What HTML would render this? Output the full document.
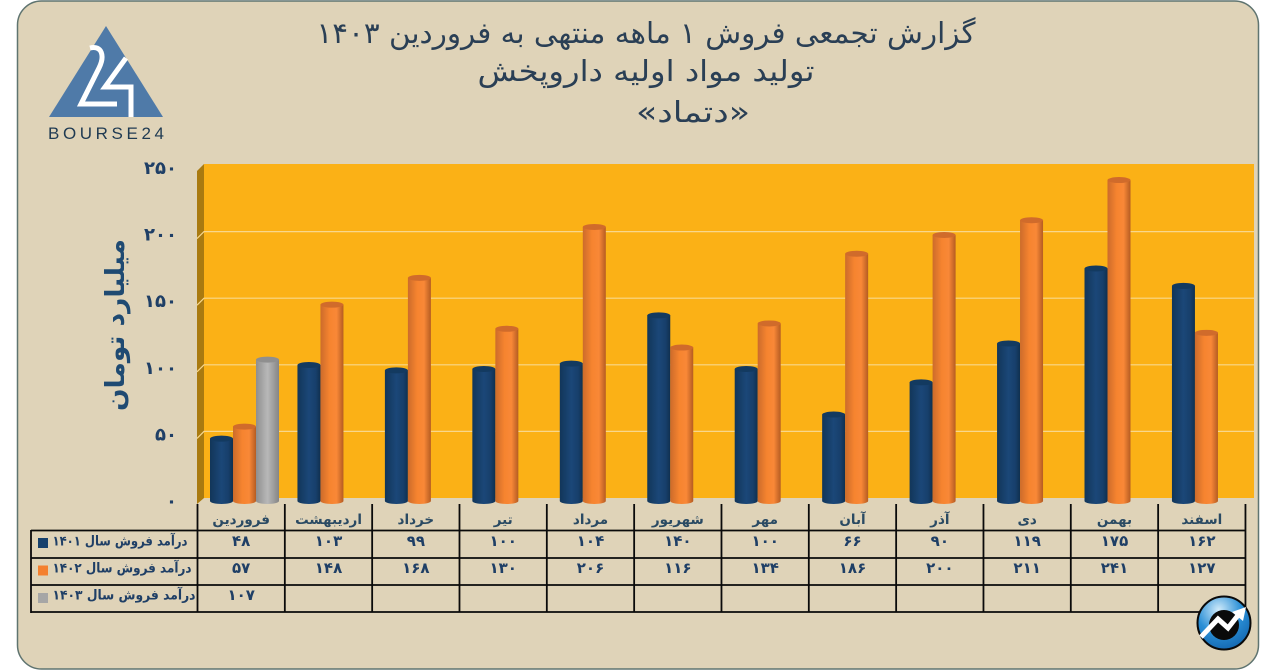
<!DOCTYPE html>
<html lang="fa">
<head>
<meta charset="utf-8">
<title>گزارش تجمعی فروش</title>
<style>
html,body{margin:0;padding:0;background:#fff;width:1271px;height:670px;overflow:hidden}
svg{display:block;font-family:"DejaVu Sans","Liberation Sans",sans-serif}
</style>
</head>
<body>
<svg id="chart" xmlns="http://www.w3.org/2000/svg" width="1271" height="670" viewBox="0 0 1271 670">
<defs>
<linearGradient id="gb" x1="0" x2="1" y1="0" y2="0"><stop offset="0" stop-color="#123659"/><stop offset=".5" stop-color="#1b4778"/><stop offset=".8" stop-color="#173f6b"/><stop offset="1" stop-color="#10304f"/></linearGradient>
<linearGradient id="go" x1="0" x2="1" y1="0" y2="0"><stop offset="0" stop-color="#cc6b2b"/><stop offset=".4" stop-color="#f6842f"/><stop offset=".7" stop-color="#f98837"/><stop offset="1" stop-color="#b55c22"/></linearGradient>
<linearGradient id="gg" x1="0" x2="1" y1="0" y2="0"><stop offset="0" stop-color="#8f8f8f"/><stop offset=".5" stop-color="#b8b8b8"/><stop offset="1" stop-color="#858585"/></linearGradient>
<radialGradient id="badge" cx=".4" cy=".25" r=".85"><stop offset="0" stop-color="#cfeafa"/><stop offset=".5" stop-color="#2a8fd6"/><stop offset="1" stop-color="#0f5fa8"/></radialGradient>
</defs>
<rect x="17.5" y="1" width="1241" height="668" rx="24" fill="#dfd3b8" stroke="#5f7470" stroke-width="1.5"/>

<g>
<polygon points="106,26 163,117 49,117" fill="#4f7aa8"/>
<path d="M90,48 C102,45 105,56 99,68 L81,104 L117,104 M126,58 L105,87 L131,87 L131,117" fill="none" stroke="#fff" stroke-width="5"/>
<text x="106" y="139" text-anchor="middle" font-family="Liberation Sans" font-size="17" fill="#1f3a52" textLength="116">BOURSE24</text>
</g>

<g fill="#2a3f55" text-anchor="middle" direction="rtl">
<text x="646" y="43" font-size="29" textLength="659" lengthAdjust="spacingAndGlyphs">گزارش تجمعی فروش ۱ ماهه منتهی به فروردین ۱۴۰۳</text>
<text x="646" y="81" font-size="29" textLength="337" lengthAdjust="spacingAndGlyphs">تولید مواد اولیه داروپخش</text>
<text x="693" y="122" font-size="29" textLength="114" lengthAdjust="spacingAndGlyphs">«دتماد»</text>
</g>

<text transform="translate(124,325) rotate(-90)" text-anchor="middle" direction="rtl" font-size="26" font-weight="bold" fill="#1f4a72" textLength="172" lengthAdjust="spacingAndGlyphs">میلیارد تومان</text>

<g id="plot"></g>
<g id="table"></g>

<g>
<circle cx="1224" cy="623" r="26.5" fill="url(#badge)" stroke="#0a0a0a" stroke-width="2"/>
<circle cx="1224" cy="625" r="15" fill="#0a0a0a"/>
<path d="M1201,637 L1218,619 L1228,628 L1239,614" fill="none" stroke="#fff" stroke-width="5"/>
<polygon points="1246,607 1243,621 1232,612" fill="#fff"/>
</g>
</svg>

<script>
const categories = ['فروردین','اردیبهشت','خرداد','تیر','مرداد','شهریور','مهر','آبان','آذر','دی','بهمن','اسفند'];
const sales1401 = [48,103,99,100,104,140,100,66,90,119,175,162];
const sales1402 = [57,148,168,130,206,116,134,186,200,211,241,127];
const sales1403 = [107,null,null,null,null,null,null,null,null,null,null,null];
const seriesLabels = ['درآمد فروش سال ۱۴۰۱','درآمد فروش سال ۱۴۰۲','درآمد فروش سال ۱۴۰۳'];
const yTicks = [0,50,100,150,200,250];

const NS = 'http://www.w3.org/2000/svg';
const plot = document.getElementById('plot');
const table = document.getElementById('table');

function fa(n){ return String(n).replace(/\d/g, d => '۰۱۲۳۴۵۶۷۸۹'[d]); }
function make(tag, attrs, parent, txt){
  const e = document.createElementNS(NS, tag);
  for (const k in attrs) e.setAttribute(k, attrs[k]);
  if (txt !== undefined) e.textContent = txt;
  parent.appendChild(e);
  return e;
}
const yFront = v => 503 - v * 1.34;
const yWall = v => 498 - v * 1.332;
const colX = i => 197.5 + i * 87.33;
const barX = (i, s) => 210 + i * 87.45 + s * 23;

let el = make('rect', {x:204,y:164,width:1050,height:334,fill:'#fbb116'}, plot);


el = make('polygon', {points:'197,171 204,164 204,498 197,504', fill:'#a97a10'}, plot);



yTicks.forEach(t => {
  if (t > 0 && t < 250) {
    const g = make('path', {d:`M197,${yWall(t)+7} L204,${yWall(t)} L1254,${yWall(t)}`, fill:'none', stroke:'#f8d78c', 'stroke-width':1.2}, plot);
    
    
  }
  const lab = make('text', {x:177, y:yWall(t)+9, 'text-anchor':'end', 'font-size':18, 'font-weight':'bold', fill:'#1f3f66'}, plot, fa(t));
  
  
});

const seriesData = [sales1401, sales1402, sales1403];
const fills = ['url(#gb)','url(#go)','url(#gg)'];
const tops = ['#133a60','#d06b2b','#8f8f8f'];
const swatches = ['#17416d','#f4802f','#a6a6a6'];

seriesData.forEach((vals, s) => {
  vals.forEach((v, i) => {
    if (v === null) return;
    const x = barX(i, s), w = 23, top = yFront(v), base = 501;
    const body = make('path', {d:`M${x},${top} L${x},${base} A${w/2},3 0 0 0 ${x+w},${base} L${x+w},${top} Z`, fill:fills[s]}, plot);
    
    
    const cap = make('ellipse', {cx:x+w/2, cy:top, rx:w/2, ry:3, fill:tops[s]}, plot);
    
    
  });
});

// table grid
[[31,530.5,1245,530.5],[31,558,1245,558],[31,585,1245,585],[31,612,1245,612],[31,530,31,613]].forEach(c => {
  const ln = make('line', {x1:c[0],y1:c[1],x2:c[2],y2:c[3],stroke:'#0a0a0a','stroke-width':1.8}, table);
  
  
});
for (let i = 0; i <= categories.length; i++) {
  const ln = make('line', {x1:colX(i),y1:504,x2:colX(i),y2:612,stroke:'#0a0a0a','stroke-width':1.8}, table);
  
  
}
categories.forEach((c, i) => {
  const cx = colX(i) + 43.7;
  const t = make('text', {x:cx, y:524, 'text-anchor':'middle', direction:'rtl', 'font-size':13.5, 'font-weight':'bold', fill:'#2a4a63'}, table, c);
  
  
  seriesData.forEach((vals, s) => {
    if (vals[i] === null) return;
    const vt = make('text', {x:cx, y:546 + s * 27, 'text-anchor':'middle', 'font-size':15, 'font-weight':'bold', fill:'#1f3f66'}, table, fa(vals[i]));
    
    
  });
});
seriesLabels.forEach((l, s) => {
  const sw = make('rect', {x:38, y:538 + s * 27.5, width:10, height:10, fill:swatches[s]}, table);
  
  
  const t = make('text', {x:120 + s * 2, y:545.5 + s * 27, 'text-anchor':'middle', direction:'rtl', 'font-size':13.5, 'font-weight':'bold', fill:'#1f3f66', textLength:135 + s * 4, lengthAdjust:'spacingAndGlyphs'}, table, l);
  
  
});
</script>
</body>
</html>
